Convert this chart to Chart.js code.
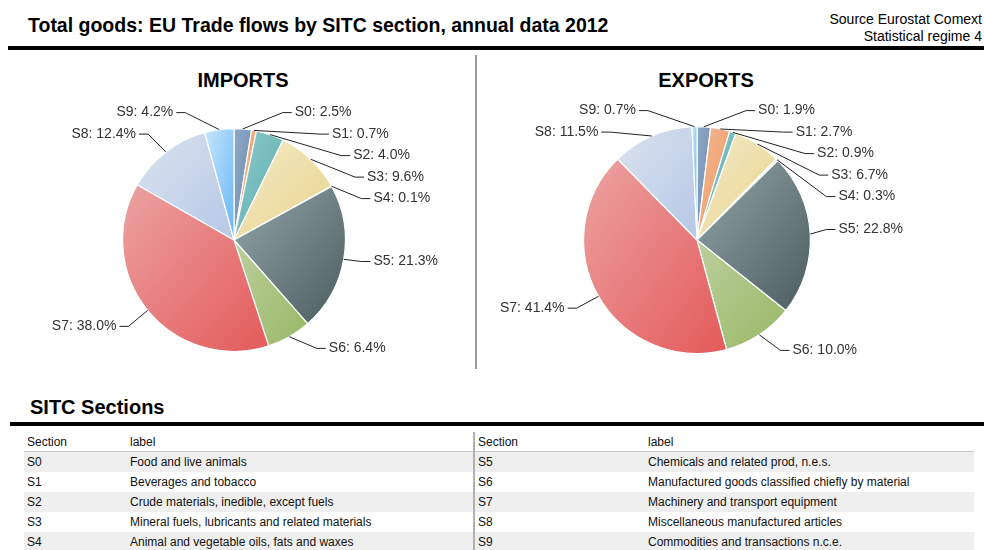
<!DOCTYPE html>
<html>
<head>
<meta charset="utf-8">
<script src="https://cdn.jsdelivr.net/npm/chart.js@4.4.0/dist/chart.umd.min.js"></script>
<style>
  html, body { margin: 0; padding: 0; background: #fff; }
  body { width: 984px; height: 550px; position: relative; overflow: hidden;
         font-family: "Liberation Sans", Arial, sans-serif; color: #000; }
  .title { position: absolute; left: 28px; top: 14px; font-size: 19.5px; font-weight: bold; }
  .source { position: absolute; right: 2px; top: 11px; font-size: 14px; text-align: right; line-height: 17px; }
  .rule { position: absolute; left: 8px; right: 0; height: 4px; background: #000; }
  .divider { position: absolute; left: 475px; top: 55px; width: 2px; height: 314px; background: #999; }
  .pie-title { position: absolute; top: 69px; font-size: 20px; font-weight: bold; text-align: center; }
  .pie-box { position: absolute; top: 90px; }
  .sub { position: absolute; left: 30px; top: 396px; font-size: 20px; font-weight: bold; }
  table { position: absolute; left: 24px; top: 432px; width: 950px; border-collapse: collapse;
          font-size: 12px; color: #111; table-layout: fixed; }
  td { height: 20px; padding: 0 0 0 3px; white-space: nowrap; }
  tr.head td { border-bottom: 1px solid #c8c8c8; height: 19px; }
  tr.odd td { background: #efefef; }
  td.mid { border-left: 2px solid #b0b0b0; }
</style>
</head>
<body>
<div class="title">Total goods: EU Trade flows by SITC section, annual data 2012</div>
<div class="source">Source Eurostat Comext<br>Statistical regime 4</div>
<div class="rule" style="top:46px"></div>
<div class="divider"></div>

<div class="pie-title" style="left:0;width:486px">IMPORTS</div>
<div class="pie-title" style="left:476px;width:460px">EXPORTS</div>
<div class="pie-box" style="left:0"><canvas id="importsChart" width="470" height="300"></canvas></div>
<div class="pie-box" style="left:476px"><canvas id="exportsChart" width="508" height="300"></canvas></div>

<div class="sub">SITC Sections</div>
<div class="rule" style="top:422px;left:10px"></div>
<table id="sitcTable">
  <colgroup><col style="width:103px"><col style="width:347px"><col style="width:171px"><col style="width:329px"></colgroup>
</table>

<script>
// ─── DATA ────────────────────────────────────────────
const sections      = ['S0', 'S1', 'S2', 'S3', 'S4', 'S5', 'S6', 'S7', 'S8', 'S9'];
const importShares  = [2.5, 0.7, 4.0, 9.6, 0.1, 21.3, 6.4, 38.0, 12.4, 4.2];
const exportShares  = [1.9, 2.7, 0.9, 6.7, 0.3, 22.8, 10.0, 41.4, 11.5, 0.7];
const sectionLabels = [
  'Food and live animals',
  'Beverages and tobacco',
  'Crude materials, inedible, except fuels',
  'Mineral fuels, lubricants and related materials',
  'Animal and vegetable oils, fats and waxes',
  'Chemicals and related prod, n.e.s.',
  'Manufactured goods classified chiefly by material',
  'Machinery and transport equipment',
  'Miscellaneous manufactured articles',
  'Commodities and transactions n.c.e.',
];

// slice colours: light (top-left of slice) -> dark (bottom-right)
const lightColors = ['#90aac8', '#f4b890', '#90cccc', '#f4ecca', '#ece8e4',
                     '#92a6a8', '#bccf9c', '#eca2a2', '#dae2ee', '#c8e6fc'];
const darkColors  = ['#6888ac', '#ec9866', '#58aaac', '#e8d28a', '#d4d0cc',
                     '#4c5c60', '#98b866', '#e45a5a', '#b6c8e6', '#66b6f6'];


// ─── TABLE ───────────────────────────────────────────
(function () {
  const table = document.getElementById('sitcTable');
  const half = sections.length / 2;
  let html = '<tr class="head"><td>Section</td><td>label</td><td class="mid">Section</td><td>label</td></tr>';
  for (let i = 0; i < half; i++) {
    const j = i + half;
    html += `<tr class="${i % 2 === 0 ? 'odd' : ''}"><td>${sections[i]}</td><td>${sectionLabels[i]}</td>` +
            `<td class="mid">${sections[j]}</td><td>${sectionLabels[j]}</td></tr>`;
  }
  table.insertAdjacentHTML('beforeend', html);
})();


// ─── SLICE GRADIENT (bounding-box diagonal, like the original) ──
function sliceGradient(context) {
  const chart = context.chart;
  const area = chart.chartArea;
  const i = context.dataIndex;
  if (!area || i === undefined) return lightColors[i] || '#ccc';
  const data = chart.data.datasets[0].data;
  const total = data.reduce((a, b) => a + b, 0);
  const cx = (area.left + area.right) / 2;
  const cy = (area.top + area.bottom) / 2;
  const r = Math.min(area.right - area.left, area.bottom - area.top) / 2;
  let before = 0;
  for (let k = 0; k < i; k++) before += data[k];
  const a0 = -Math.PI / 2 + before / total * Math.PI * 2;
  const a1 = a0 + data[i] / total * Math.PI * 2;

  const xs = [cx, cx + r * Math.cos(a0), cx + r * Math.cos(a1)];
  const ys = [cy, cy + r * Math.sin(a0), cy + r * Math.sin(a1)];
  for (let q = -1; q <= 4; q++) {
    const a = q * Math.PI / 2;
    if (a > a0 && a < a1) { xs.push(cx + r * Math.cos(a)); ys.push(cy + r * Math.sin(a)); }
  }
  const x0 = Math.min(...xs), y0 = Math.min(...ys);
  const w = Math.max(Math.max(...xs) - x0, 1), h = Math.max(Math.max(...ys) - y0, 1);
  const len = 2 * w * h / Math.sqrt(w * w + h * h);
  const n = Math.sqrt(w * w + h * h);
  const g = chart.ctx.createLinearGradient(x0, y0, x0 + h / n * len, y0 + w / n * len);
  g.addColorStop(0, lightColors[i]);
  g.addColorStop(1, darkColors[i]);
  return g;
}


// ─── OUTSIDE LABELS WITH CONNECTORS ──────────────────
const outsideLabels = {
  id: 'outsideLabels',
  afterDatasetsDraw(chart) {
    const ctx = chart.ctx;
    const arcs = chart.getDatasetMeta(0).data;
    const values = chart.data.datasets[0].data;
    if (!arcs.length) return;
    const cx = arcs[0].x, cy = arcs[0].y, r = arcs[0].outerRadius;
    const R = r + 30, Rb = r + 25, gap = 21.5;
    const yMin = cy - r - 16, yMax = cy + r - 3;

    const items = arcs.map((a, i) => {
      const mid = (a.startAngle + a.endAngle) / 2;
      return {
        i, right: Math.cos(mid) >= 0,
        y: cy + R * Math.sin(mid) - 3,
        ex: cx + r * Math.cos(mid), ey: cy + r * Math.sin(mid),
      };
    });

    function spread(list) {
      list.sort((a, b) => a.y - b.y);
      for (let k = 0; k < list.length; k++) {
        const lo = k ? list[k - 1].y + gap : yMin;
        if (list[k].y < lo) list[k].y = lo;
      }
      for (let k = list.length - 1; k >= 0; k--) {
        const hi = k < list.length - 1 ? list[k + 1].y - gap : yMax;
        if (list[k].y > hi) list[k].y = hi;
      }
    }
    spread(items.filter(it => it.right));
    spread(items.filter(it => !it.right));

    ctx.save();
    ctx.font = '14px "Liberation Sans", Arial, sans-serif';
    ctx.textBaseline = 'middle';
    ctx.strokeStyle = '#222';
    ctx.lineWidth = 1;
    ctx.fillStyle = '#333';
    for (const it of items) {
      const dy = it.y - cy;
      const off = Math.sqrt(Math.max(Rb * Rb - dy * dy, 0));
      const textOff = Math.max(Math.min(off + 12, r + 28), r * 0.5);
      const s = it.right ? 1 : -1;
      const textX = cx + s * textOff;
      const bendX = cx + s * (textOff - 12);
      ctx.beginPath();
      ctx.moveTo(it.ex, it.ey);
      ctx.lineTo(bendX, it.y);
      ctx.lineTo(textX - s * 3, it.y);
      ctx.stroke();
      ctx.textAlign = it.right ? 'left' : 'right';
      ctx.fillText(`${sections[it.i]}: ${values[it.i].toFixed(1)}%`, textX, it.y);
    }
    ctx.restore();
  },
};


// ─── CHARTS ──────────────────────────────────────────
function makePie(id, values, padding) {
  return new Chart(document.getElementById(id), {
    type: 'pie',
    data: {
      labels: sections,
      datasets: [{
        data: values,
        backgroundColor: sliceGradient,
        borderColor: '#ffffff',
        borderWidth: 1.2,
      }],
    },
    options: {
      responsive: false,
      animation: false,
      layout: { padding },
      plugins: {
        legend: { display: false },
        tooltip: { enabled: false },
      },
    },
    plugins: [outsideLabels],
  });
}

makePie('importsChart', importShares, { top: 38, bottom: 38, left: 0, right: 2 });
makePie('exportsChart', exportShares, { top: 36, bottom: 36, left: 0, right: 66 });
</script>
</body>
</html>
